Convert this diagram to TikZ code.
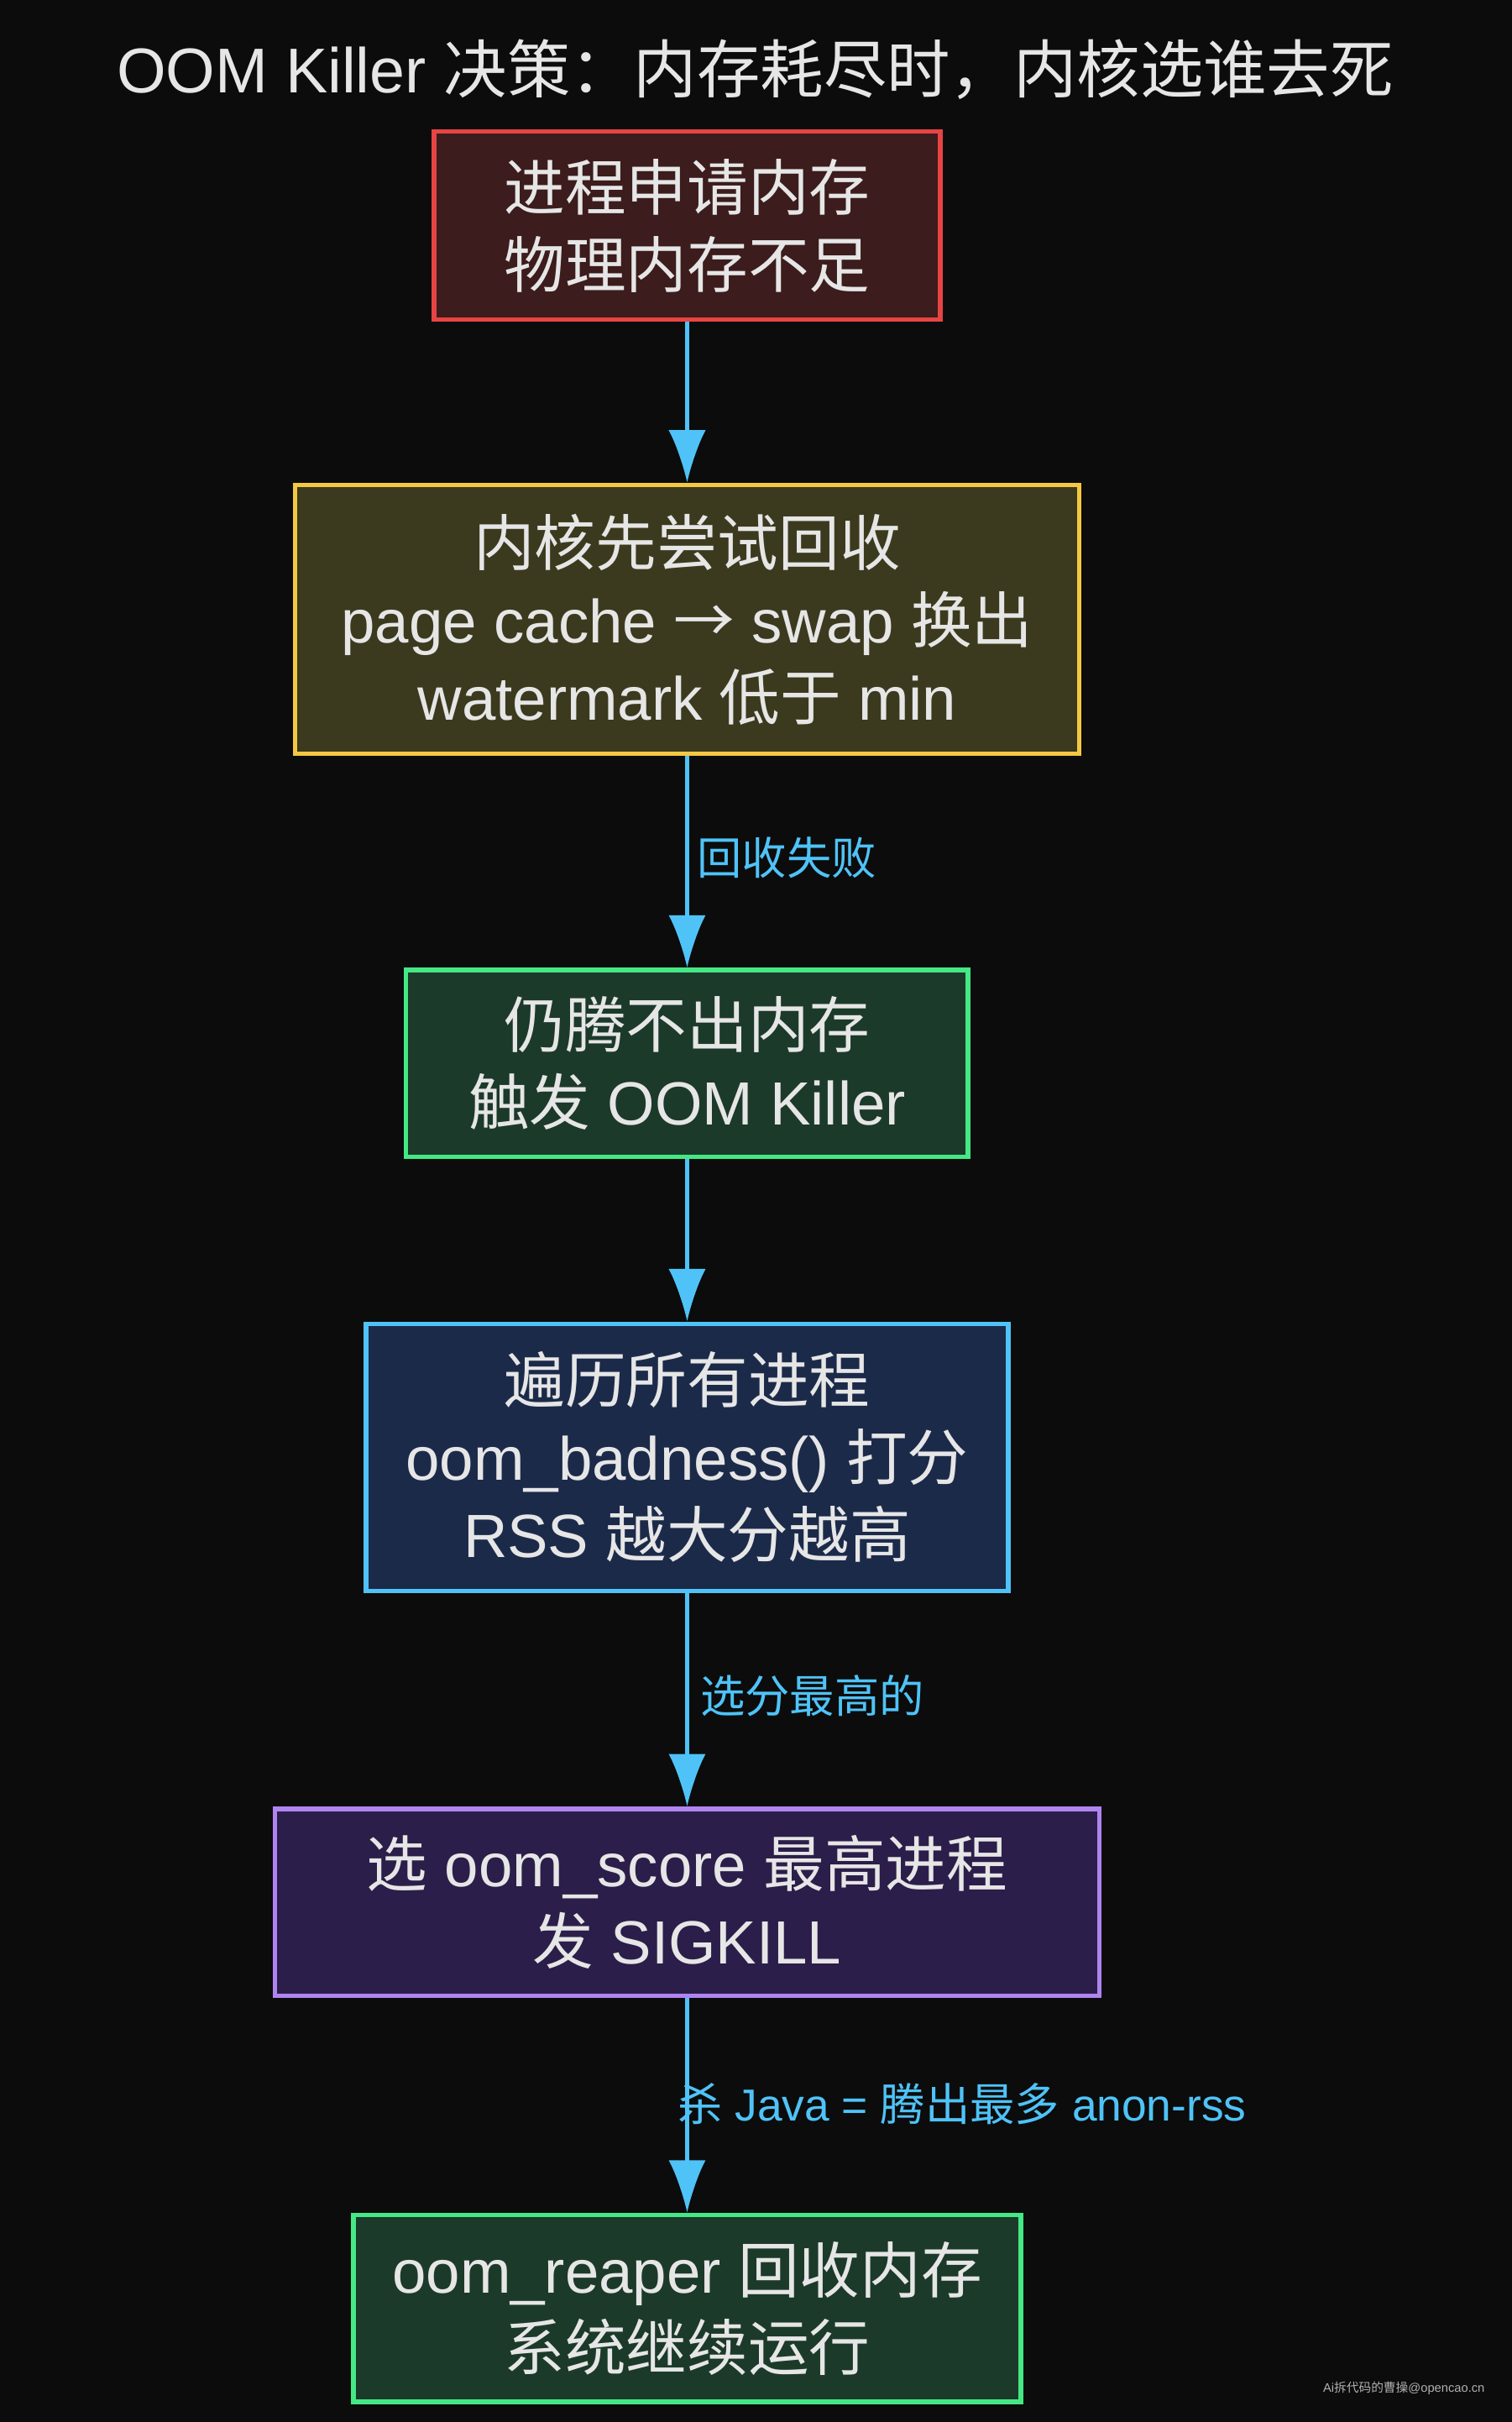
\documentclass[tikz,border=0pt]{standalone}
\usepackage{fontspec}
\setmainfont{Liberation Sans}
\newfontfamily\cjk{Noto Sans CJK SC}
\newcommand{\zh}[1]{{\cjk #1}}
\usetikzlibrary{arrows.meta}
\definecolor{bg}{HTML}{0C0C0C}
\definecolor{txt}{HTML}{E6E6E6}
\definecolor{arr}{HTML}{4FC3F7}
\definecolor{rD}{HTML}{E84444}\definecolor{rF}{HTML}{3C1C1C}
\definecolor{yD}{HTML}{F4C842}\definecolor{yF}{HTML}{3C3A1E}
\definecolor{gD}{HTML}{44E884}\definecolor{gF}{HTML}{1C3A2A}
\definecolor{bD}{HTML}{4FC3F7}\definecolor{bF}{HTML}{1C2A4A}
\definecolor{pD}{HTML}{B084F0}\definecolor{pF}{HTML}{2C1E4A}
\definecolor{wm}{HTML}{B0B0B0}
\tikzset{
 box/.style={draw, line width=3pt, text=txt, align=center, font=\fontsize{39.5}{50}\selectfont, inner sep=0pt},
 conn/.style={arr, line width=2.5pt, -{Latex[length=34pt,width=24pt]}},
 lab/.style={text=arr, font=\fontsize{29}{32}\selectfont, anchor=west}
}
\begin{document}
\begin{tikzpicture}[x=1pt,y=-1pt]
\fill[bg] (0,0) rectangle (979,1568);
\useasboundingbox (0,0) rectangle (979,1568);
\node[text=txt, font=\fontsize{41}{42}\selectfont] (title) at (489,45) {OOM Killer \zh{决策：内存耗尽时，内核选谁去死}};
\node[box, draw=rD, fill=rF, minimum width=328pt, minimum height=122pt] (a) at (445,146) {\zh{进程申请内存}\\\zh{物理内存不足}};
\node[box, draw=yD, fill=yF, minimum width=508pt, minimum height=174pt] (b) at (445,401) {\zh{内核先尝试回收}\\page cache {\cjk →} swap \zh{换出}\\watermark \zh{低于} min};
\node[box, draw=gD, fill=gF, minimum width=364pt, minimum height=121pt] (c) at (445,688.5) {\zh{仍腾不出内存}\\\zh{触发} OOM Killer};
\node[box, draw=bD, fill=bF, minimum width=416pt, minimum height=173pt] (d) at (445,943.5) {\zh{遍历所有进程}\\oom\_badness() \zh{打分}\\RSS \zh{越大分越高}};
\node[box, draw=pD, fill=pF, minimum width=534pt, minimum height=121pt] (e) at (445,1231.5) {\zh{选} oom\_score \zh{最高进程}\\\zh{发} SIGKILL};
\node[box, draw=gD, fill=gF, minimum width=432pt, minimum height=121pt] (f) at (445,1494.5) {oom\_reaper \zh{回收内存}\\\zh{系统继续运行}};
\draw[conn] (a) -- (b);
\draw[conn] (b) -- (c);
\draw[conn] (c) -- (d);
\draw[conn] (d) -- (e);
\draw[conn] (e) -- (f);
\node[lab] (l1) at (448,555) {\zh{回收失败}};
\node[lab] (l2) at (450,1098) {\zh{选分最高的}};
\node[lab, anchor=center] (l3) at (623,1362) {\zh{杀} Java = \zh{腾出最多} anon-rss};
\node[text=wm, font=\fontsize{8}{9}\selectfont, anchor=east] (w) at (965,1546) {Ai\zh{拆代码的曹操}@opencao.cn};
\end{tikzpicture}
\end{document}
